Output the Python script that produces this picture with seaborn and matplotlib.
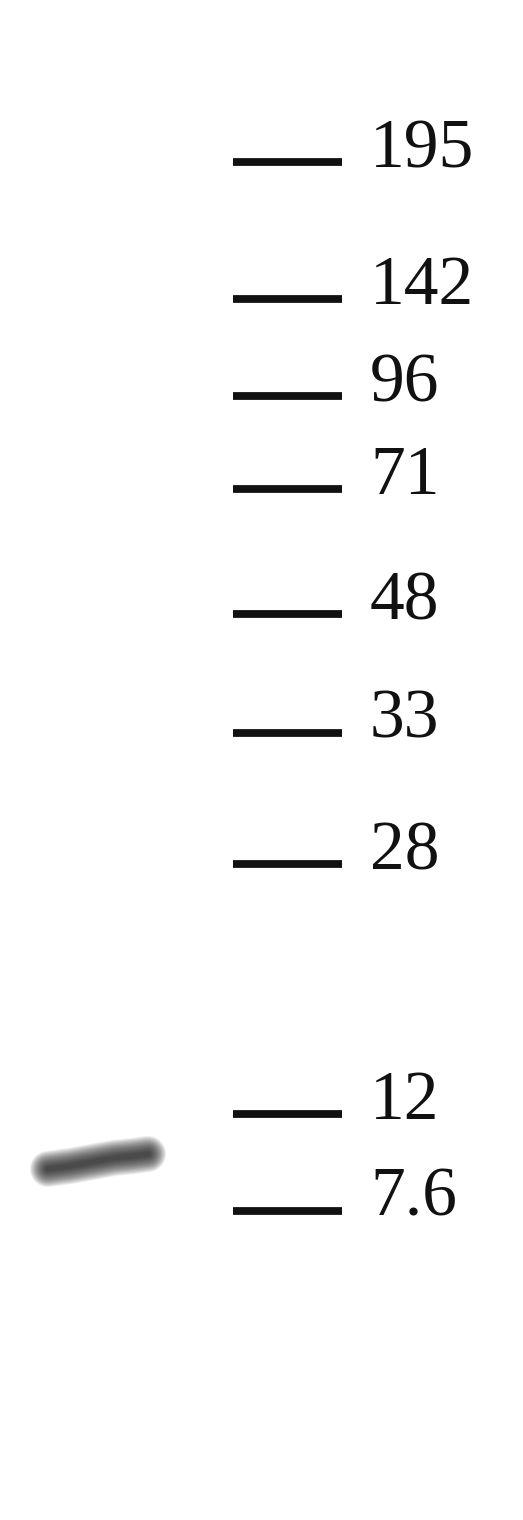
import numpy as np
import pandas as pd
import matplotlib
matplotlib.use("Agg")
import matplotlib.pyplot as plt
import seaborn as sns

# marcadores de peso molecular (kDa) y su posicion en el gel (px desde arriba)
marker_labels = ["195", "142", "96", "71", "48", "33", "28", "12", "7.6"]
marker_y = [162, 299, 396, 489, 614, 733, 864, 1114, 1211]

# banda de la muestra: centro a lo largo del carril
band_x = [48, 70, 92, 114, 133, 148]
band_y = [1169, 1166, 1162, 1158, 1156, 1154]

sns.set_style("white")

fig = plt.figure(figsize=(5.23, 15.2), dpi=100)
ax = fig.add_axes([0, 0, 1, 1])

# lineas del marcador
ax.hlines(marker_y, 233, 342, colors="#111111", linewidth=5.6)
for lab, y in zip(marker_labels, marker_y):
    ax.text(370, y + 5, lab, family="Liberation Serif", fontsize=50,
            color="#111111", va="baseline", ha="left")

# banda difusa: muchas capas finas con poca opacidad
df = pd.DataFrame({"x": band_x, "y": band_y})
for lw in np.arange(26, 3, -1.2):
    sns.lineplot(data=df, x="x", y="y", ax=ax, color="#1a1a1a", linewidth=lw,
                 alpha=0.07, solid_capstyle="round", sort=False)

ax.set_xlim(0, 523)
ax.set_ylim(1520, 0)
ax.axis("off")

fig.savefig("out.png", dpi=100)
